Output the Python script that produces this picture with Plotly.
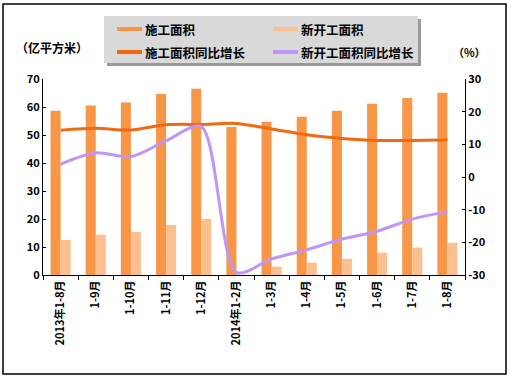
import plotly.graph_objects as go

categories = ["2013年1-8月", "1-9月", "1-10月", "1-11月", "1-12月", "2014年1-2月",
              "1-3月", "1-4月", "1-5月", "1-6月", "1-7月", "1-8月"]
construction_area = [58.7, 60.5, 61.6, 64.6, 66.5, 52.9, 54.7, 56.5, 58.7, 61.2, 63.2, 65.1]
new_start_area = [12.5, 14.4, 15.4, 17.9, 20.0, 0.0, 3.0, 4.4, 5.8, 8.0, 9.8, 11.5]
construction_yoy = [14.3, 14.9, 14.4, 16.0, 16.1, 16.4, 14.7, 12.9, 11.8, 11.2, 11.2, 11.4]
new_start_yoy = [3.9, 7.4, 6.2, 11.1, 15.4, -29.2, -25.1, -22.3, -19.0, -16.6, -12.9, -10.6]

left_ticks = [0, 10, 20, 30, 40, 50, 60, 70]
right_ticks = [-30, -20, -10, 0, 10, 20, 30]

C_BAR = "#F79646"
C_BAR2 = "#FAC090"
C_LINE = "#EE6A10"
C_LINE2 = "#C095F5"

FONT = "Noto Sans CJK SC"

fig = go.Figure()
fig.add_trace(go.Bar(x=categories, y=construction_area, name="施工面积",
                     marker=dict(color=C_BAR, line=dict(width=0)), yaxis="y"))
fig.add_trace(go.Bar(x=categories, y=new_start_area, name="新开工面积",
                     marker=dict(color=C_BAR2, line=dict(width=0)), yaxis="y"))
fig.add_trace(go.Scatter(x=categories, y=construction_yoy, name="施工面积同比增长",
                         mode="lines", line=dict(color=C_LINE, width=3, shape="spline", smoothing=0.8),
                         yaxis="y2"))
fig.add_trace(go.Scatter(x=categories, y=new_start_yoy, name="新开工面积同比增长",
                         mode="lines", line=dict(color=C_LINE2, width=3, shape="spline", smoothing=0.8),
                         yaxis="y2"))

W, H = 512, 379
ml, mr, mt, mb = 43, 47, 79, 104
pw, ph = W - ml - mr, H - mt - mb

def px(x):
    return (x - ml) / pw

def py(y):
    return (H - mb - y) / ph

shapes = []
# outer border
shapes.append(dict(type="rect", xref="paper", yref="paper",
                   x0=px(3), x1=px(506), y0=py(374), y1=py(4),
                   line=dict(color="black", width=1.5), fillcolor="rgba(0,0,0,0)", layer="below"))
# legend shadow and box
shapes.append(dict(type="rect", xref="paper", yref="paper",
                   x0=px(107), x1=px(421), y0=py(66), y1=py(19),
                   line=dict(width=0), fillcolor="#9A9A9A"))
shapes.append(dict(type="rect", xref="paper", yref="paper",
                   x0=px(104), x1=px(418), y0=py(63), y1=py(16),
                   line=dict(width=0), fillcolor="#D9D9D9"))

annotations = []
legend_items = [
    ("施工面积", C_BAR, 117, 29),
    ("新开工面积", C_BAR2, 273, 29),
    ("施工面积同比增长", C_LINE, 117, 52),
    ("新开工面积同比增长", C_LINE2, 273, 52),
]
for name, col, x, y in legend_items:
    shapes.append(dict(type="line", xref="paper", yref="paper",
                       x0=px(x), x1=px(x + 25), y0=py(y), y1=py(y),
                       line=dict(color=col, width=4)))
    annotations.append(dict(text="<b>%s</b>" % name, xref="paper", yref="paper",
                            x=px(x + 26), y=py(y), xanchor="left", yanchor="middle",
                            showarrow=False, font=dict(family=FONT, size=12.5, color="black")))

annotations.append(dict(text="<b>（亿平方米）</b>", xref="paper", yref="paper",
                        x=px(14), y=py(47), xanchor="left", yanchor="middle",
                        showarrow=False, font=dict(family=FONT, size=12, color="black")))
annotations.append(dict(text="<b>（%）</b>", xref="paper", yref="paper",
                        x=px(488), y=py(52), xanchor="right", yanchor="middle",
                        showarrow=False, font=dict(family=FONT, size=11, color="black")))

tickfont = dict(family=FONT, size=11, color="black")

fig.update_layout(
    width=W, height=H,
    margin=dict(l=ml, r=mr, t=mt, b=mb),
    paper_bgcolor="white", plot_bgcolor="white",
    barmode="group", bargap=0.43, bargroupgap=0,
    showlegend=False,
    shapes=shapes, annotations=annotations,
    xaxis=dict(type="category", tickangle=-90, tickfont=tickfont,
               showline=True, linecolor="black", linewidth=1,
               ticks="outside", ticklen=4, tickcolor="black", tickson="boundaries",
               showgrid=False, zeroline=False,
               tickvals=categories,
               ticktext=["<b>%s</b>" % c for c in categories]),
    yaxis=dict(range=[0, 70], tickvals=left_ticks,
               ticktext=["<b>%d</b>" % v for v in left_ticks], tickfont=tickfont,
               showline=True, linecolor="black", linewidth=1,
               ticks="inside", ticklen=3, tickcolor="black",
               showgrid=False, zeroline=False),
    yaxis2=dict(range=[-30, 30], tickvals=right_ticks, overlaying="y", side="right",
                ticktext=["<b>%d</b>" % v for v in right_ticks], tickfont=tickfont,
                showline=True, linecolor="black", linewidth=1,
                ticks="inside", ticklen=3, tickcolor="black",
                showgrid=False, zeroline=False),
)

fig.write_html("out.html", config={"displayModeBar": False},
               post_script="document.body.style.margin='0';document.body.style.overflow='hidden';")
